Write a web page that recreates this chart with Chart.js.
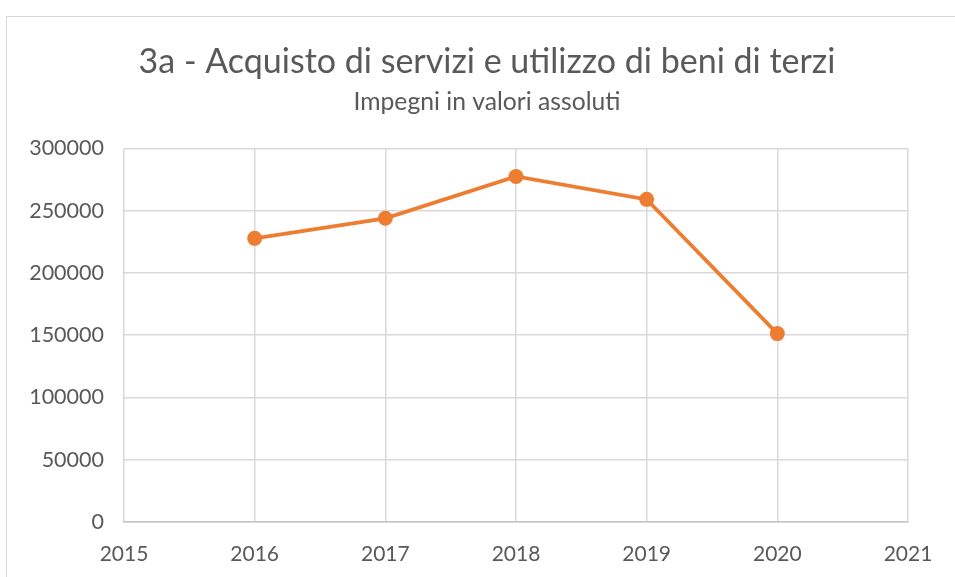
<!DOCTYPE html>
<html>
<head>
<meta charset="utf-8">
<script src="https://cdn.jsdelivr.net/npm/chart.js@4"></script>
<style>
    html, body { margin: 0; padding: 0; background: #ffffff; }
    #wrap { position: relative; width: 955px; height: 577px; overflow: hidden; }
    #frame {
        position: absolute; left: 6px; top: 16px; width: 1000px; height: 600px;
        border: 1.5px solid #d9d9d9; box-sizing: border-box;
    }
    canvas { position: absolute; left: 0; top: 0; }
</style>
</head>
<body>
<div id="wrap">
    <div id="frame"></div>
    <canvas id="lineChart" width="955" height="577"></canvas>
</div>
<script>
const years = [2016, 2017, 2018, 2019, 2020];
const impegni = [227800, 243900, 277500, 259100, 151300];
const yTicks = [0, 50000, 100000, 150000, 200000, 250000, 300000];
const xTicks = [2015, 2016, 2017, 2018, 2019, 2020, 2021];

const textColor = '#595959';
const gridColor = '#d9d9d9';
const axisColor = '#c4c4c4';
const orange = '#ed7d31';
const fontFamily = 'Lato, "Open Sans", sans-serif';

// titles in the original sit a bit right of the plot centre
const shiftTitles = {
    id: 'shiftTitles',
    afterLayout(chart) {
        chart.boxes.forEach(box => {
            if (box.position === 'top' && !box.axis) {
                box.left += 33;
                box.right += 33;
            }
        });
    }
};

document.addEventListener('DOMContentLoaded', () => {
    const ctx = document.getElementById('lineChart');

    new Chart(ctx, {
        type: 'line',
        data: {
            datasets: [{
                label: 'Impegni',
                data: years.map((y, i) => ({ x: y, y: impegni[i] })),
                borderColor: orange,
                backgroundColor: orange,
                borderWidth: 3.75,
                tension: 0,
                pointRadius: 7.5,
                pointBackgroundColor: orange,
                pointBorderColor: orange,
                pointBorderWidth: 0,
            }]
        },
        options: {
            responsive: false,
            animation: false,
            layout: { padding: { left: 0, right: 47, top: 0, bottom: 0 } },
            plugins: {
                legend: { display: false },
                tooltip: { enabled: false },
                title: {
                    display: true,
                    text: '3a - Acquisto di servizi e utilizzo di beni di terzi',
                    color: textColor,
                    font: { family: fontFamily, size: 34, weight: 'normal', lineHeight: 1.2 },
                    padding: { top: 41.6, bottom: 0 },
                },
                subtitle: {
                    display: true,
                    text: 'Impegni in valori assoluti',
                    color: textColor,
                    font: { family: fontFamily, size: 24.7, weight: 'normal', lineHeight: 1.2 },
                    padding: { top: 4.8, bottom: 31.6 },
                }
            },
            scales: {
                x: {
                    type: 'linear',
                    min: 2015,
                    max: 2021,
                    afterBuildTicks: (axis) => { axis.ticks = xTicks.map(v => ({ value: v })); },
                    afterFit: (axis) => { axis.height = 55; },
                    grid: { color: gridColor, lineWidth: 1.5, drawTicks: false },
                    border: { color: axisColor, width: 1.5 },
                    ticks: {
                        color: textColor,
                        padding: 20,
                        font: { family: fontFamily, size: 21 },
                        callback: (v) => String(v),
                    }
                },
                y: {
                    min: 0,
                    max: 300000,
                    afterBuildTicks: (axis) => { axis.ticks = yTicks.map(v => ({ value: v })); },
                    afterFit: (axis) => { axis.width = 124; },
                    grid: { color: gridColor, lineWidth: 1.5, drawTicks: false },
                    border: { display: false },
                    ticks: {
                        color: textColor,
                        padding: 20,
                        font: { family: fontFamily, size: 21.5 },
                        callback: (v) => String(v),
                    }
                }
            }
        },
        plugins: [shiftTitles]
    });
});
</script>
</body>
</html>
